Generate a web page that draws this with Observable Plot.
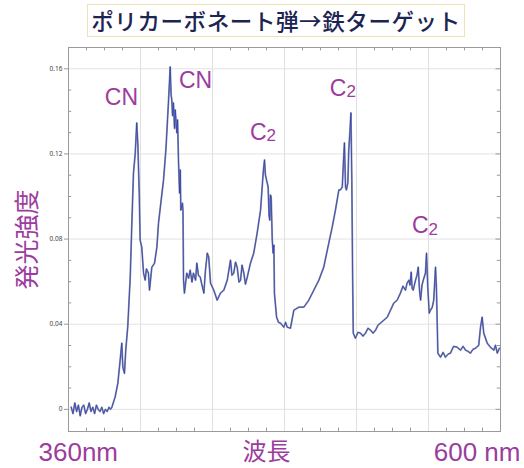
<!DOCTYPE html>
<html>
<head>
<meta charset="utf-8">
<script src="https://cdn.jsdelivr.net/npm/d3@7"></script>
<script src="https://cdn.jsdelivr.net/npm/@observablehq/plot@0.6"></script>
<style>
  html, body { margin: 0; padding: 0; background: #fff; }
  #wrap { width: 524px; height: 468px; position: relative; overflow: hidden; }
  #title { height: 42px; position: relative; }
  #title span {
    position: absolute; left: 87px; top: 4px; width: 378px; height: 33px;
    border: 1px solid #efe2b8; box-sizing: border-box;
    font-family: "Noto Sans CJK JP", sans-serif; font-size: 22.5px; font-weight: 500;
    color: #1c2452; text-align: center; line-height: 31px; letter-spacing: 0.6px;
  }
</style>
</head>
<body>
<div id="wrap">
  <div id="title"><span>ポリカーボネート弾→鉄ターゲット</span></div>
  <div id="chart"></div>
</div>
<script>
const titleText = "ポリカーボネート弾→鉄ターゲット";
const yLabel = "発光強度";
const xLabels = ["360nm", "波長", "600 nm"];
const xLabelPos = [360, 470, 600];
const yTicks = [0, 0.04, 0.08, 0.12, 0.16];
const xGrid = [360, 400, 440, 480, 520, 560, 600];
const xDomain = [360, 600];
const yDomain = [-0.0104, 0.17];

const wavelength = [361.5,362.5,363.5,364.5,365.5,366.5,367.5,368.5,369.5,370.5,371.5,372.5,373.5,374.5,375.5,376.5,377.5,378.5,379.5,380.5,381.5,382.5,383.3,
384.1,385.9,387.4,388.7,389.6,390.2,391.1,391.8,392.9,394.3,
395.2,396.1,397.1,397.9,398.5,399.3,399.8,400.7,401.7,402.6,
403.3,404.4,405,406.3,407.8,409.1,410,411.5,412.8,414.1,
415.6,416.5,417,417.4,417.8,418.3,418.9,419.3,420.2,420.6,
421.1,421.7,422.1,422.4,423.3,423.6,423.9,424.4,425.7,426.7,
427.6,428.6,429.4,430.6,431.3,432.2,433.2,433.9,435.2,436.1,
437.1,437.9,438.9,440.7,442.6,444.4,446.3,448.2,450,450.8,
451.8,452.8,453.7,454.7,455.6,456.4,457.4,458.3,459.3,461.1,
462.9,464.8,466.7,467.6,468.3,468.9,469.4,470,470.9,471.4,
471.8,472.2,472.6,473.2,473.7,474.1,474.4,475.6,476.7,477.8,
479.6,480.6,481.5,483.3,485.2,487.9,490.7,493.5,496.3,499.1,
501.8,504.6,506.5,508.3,510.2,511.1,512.1,512.8,513.3,513.9,
514.4,515.2,515.7,516.3,516.9,517.4,517.8,518.2,519.4,520.8,
522.2,523.6,525,526.4,527.8,529.2,530.6,531.9,533.3,535.2,
537.1,538.9,540.7,542.6,544.4,545.8,547.2,548.1,549.1,549.7,
550.4,550.9,551.5,552.8,553.6,554.3,555,555.6,556.4,557.1,
558.3,558.9,559.6,560.4,561.1,562.1,562.9,563.9,564.4,565.2,
566.7,568.1,569.4,570.8,572.2,573.9,575.9,577.8,579.2,580.6,
581.9,583.3,584.7,586.1,587.9,588.9,589.8,590.7,592.6,594.4,
596.3,597.2,598.2,599.4];

const intensity = [0.001,-0.002,0.003,-0.001,0.002,-0.003,0.001,0.002,-0.002,0.000,0.003,-0.001,0.001,-0.002,0.002,0.000,-0.001,0.001,-0.002,0.000,-0.001,0.001,0.000,
0.001,0.0058,0.0122,0.0231,0.0311,0.0198,0.0169,0.0278,0.0386,0.0621,
0.0875,0.111,0.1205,0.1346,0.1252,0.1016,0.0795,0.0762,0.064,0.0607,
0.066,0.064,0.056,0.0668,0.0687,0.0762,0.0875,0.0984,0.1078,0.1219,
0.1454,0.1609,0.1478,0.1454,0.138,0.144,0.132,0.1407,0.1299,0.136,
0.1172,0.1016,0.1125,0.0936,0.0969,0.0936,0.0607,0.0546,0.064,0.0616,
0.0654,0.0598,0.064,0.0607,0.0687,0.063,0.0621,0.0593,0.0546,0.0654,
0.0734,0.0715,0.0593,0.056,0.0513,0.0546,0.056,0.0607,0.0701,0.063,
0.064,0.0692,0.0668,0.0598,0.0607,0.0678,0.064,0.0588,0.0621,0.0687,
0.0734,0.0828,0.0936,0.1045,0.1125,0.1172,0.1101,0.1078,0.1045,0.0913,
0.0889,0.1007,0.0998,0.0795,0.0734,0.0772,0.0546,0.0433,0.0409,0.0405,
0.0386,0.0409,0.0386,0.0381,0.0466,0.048,0.048,0.0513,0.056,0.0607,
0.0668,0.0781,0.0856,0.0936,0.1031,0.1031,0.1045,0.1172,0.1252,0.1045,
0.1031,0.1064,0.1219,0.1299,0.1393,0.1078,0.0668,0.0358,0.0334,0.0362,
0.0358,0.0344,0.0358,0.0381,0.0372,0.0358,0.0372,0.0395,0.0405,0.0419,
0.0433,0.0466,0.0499,0.0513,0.0546,0.0579,0.056,0.0593,0.0607,0.0584,
0.0645,0.0569,0.056,0.0607,0.063,0.0668,0.056,0.0513,0.0584,0.0607,
0.064,0.0734,0.0574,0.0452,0.0466,0.048,0.0513,0.0668,0.0574,0.0264,
0.0245,0.0268,0.0245,0.0259,0.0264,0.0296,0.0292,0.0278,0.0296,0.0278,
0.0273,0.0264,0.0282,0.0287,0.0301,0.0386,0.0433,0.0358,0.0311,0.0292,
0.0278,0.0301,0.0264,0.0287];

const peakNames = ["CN", "CN", "C", "C", "C"];
const peakSub = ["", "", "2", "2", "2"];
const peakX = [389.4, 430.6, 467.8, 512.2, 557.8];
const peakY = [0.1464, 0.1544, 0.1299, 0.1506, 0.0861];

const n = Math.min(wavelength.length, intensity.length);
const spectrum = d3.range(n).map(i => ({nm: wavelength[i], v: intensity[i]}));
const peaks = peakNames.map((t, i) => ({t, s: peakSub[i], x: peakX[i], y: peakY[i]}));
const bottom = xLabels.map((t, i) => ({t, x: xLabelPos[i]}));
const minorX = d3.range(360, 601, 10).filter(d => !xGrid.includes(d));
const minorY = d3.range(0, 0.1701, 0.01).map(d => +d.toFixed(2)).filter(d => !yTicks.some(t => Math.abs(t - d) < 1e-9));
const purple = "#9c3c9e";
const sans = "Liberation Sans, Arial, sans-serif";

const chart = Plot.plot({
  width: 524,
  height: 426,
  marginLeft: 68,
  marginRight: 24,
  marginTop: 5,
  marginBottom: 37,
  style: {background: "transparent", overflow: "visible"},
  x: {domain: xDomain, axis: null},
  y: {domain: yDomain, axis: null},
  marks: [
    Plot.gridX(xGrid, {stroke: "#e0e0e0", strokeOpacity: 1}),
    Plot.gridY(yTicks, {stroke: "#e2e2e2", strokeOpacity: 1}),
    Plot.ruleX(minorX, {y1: yDomain[1], y2: yDomain[1] - 0.0016, stroke: "#999"}),
    Plot.ruleX(minorX, {y1: yDomain[0], y2: yDomain[0] + 0.0016, stroke: "#999"}),
    Plot.ruleY(minorY, {x1: 360, x2: 361.8, stroke: "#999"}),
    Plot.ruleY(minorY, {x1: 600, x2: 598.2, stroke: "#999"}),
    Plot.ruleY(yTicks, {x1: 600, x2: 597.5, stroke: "#999"}),
    Plot.axisY(yTicks, {anchor: "left", tickSize: 4, tickPadding: 2, stroke: "#999",
      tickFormat: d => d === 0 ? "0" : d.toFixed(2), fontSize: 6.5, fill: "#444", label: null}),
    Plot.frame({stroke: "#9a9a9a"}),
    Plot.line(spectrum, {x: "nm", y: "v", stroke: "#8a91ad", strokeWidth: 1.8}),
    Plot.line(spectrum, {x: "nm", y: "v", stroke: "#2d3cae", strokeWidth: 0.9, strokeOpacity: 0.85}),
    Plot.text(peaks.filter(d => !d.s), {x: "x", y: "y", text: "t", fill: purple, fontSize: 23,
      fontFamily: sans, textAnchor: "middle"}),
    Plot.text(peaks.filter(d => d.s), {x: "x", y: "y", text: "t", fill: purple, fontSize: 23,
      fontFamily: sans, textAnchor: "end", dx: 4}),
    Plot.text(peaks.filter(d => d.s), {x: "x", y: "y", text: "s", fill: purple, fontSize: 17,
      fontFamily: sans, textAnchor: "start", dx: 4, dy: 3}),
    Plot.text(bottom.slice(0, 1), {x: "x", y: yDomain[0], text: "t", fill: purple, fontSize: 26,
      fontFamily: sans, dy: 21, textAnchor: "start", dx: -30}),
    Plot.text(bottom.slice(1, 2), {x: "x", y: yDomain[0], text: "t", fill: purple, fontSize: 24,
      fontFamily: "Noto Sans CJK JP, sans-serif", dy: 21, textAnchor: "middle"}),
    Plot.text(bottom.slice(2, 3), {x: "x", y: yDomain[0], text: "t", fill: purple, fontSize: 26,
      fontFamily: sans, dy: 21, textAnchor: "end", dx: 20}),
    Plot.text([yLabel], {x: xDomain[0], y: (yDomain[0] + yDomain[1]) / 2, text: d => d, rotate: -90,
      textAnchor: "middle", dx: -41, fill: purple, fontSize: 25, fontFamily: "Noto Sans CJK JP, sans-serif"})
  ]
});
document.getElementById("chart").appendChild(chart);
</script>
</body>
</html>
